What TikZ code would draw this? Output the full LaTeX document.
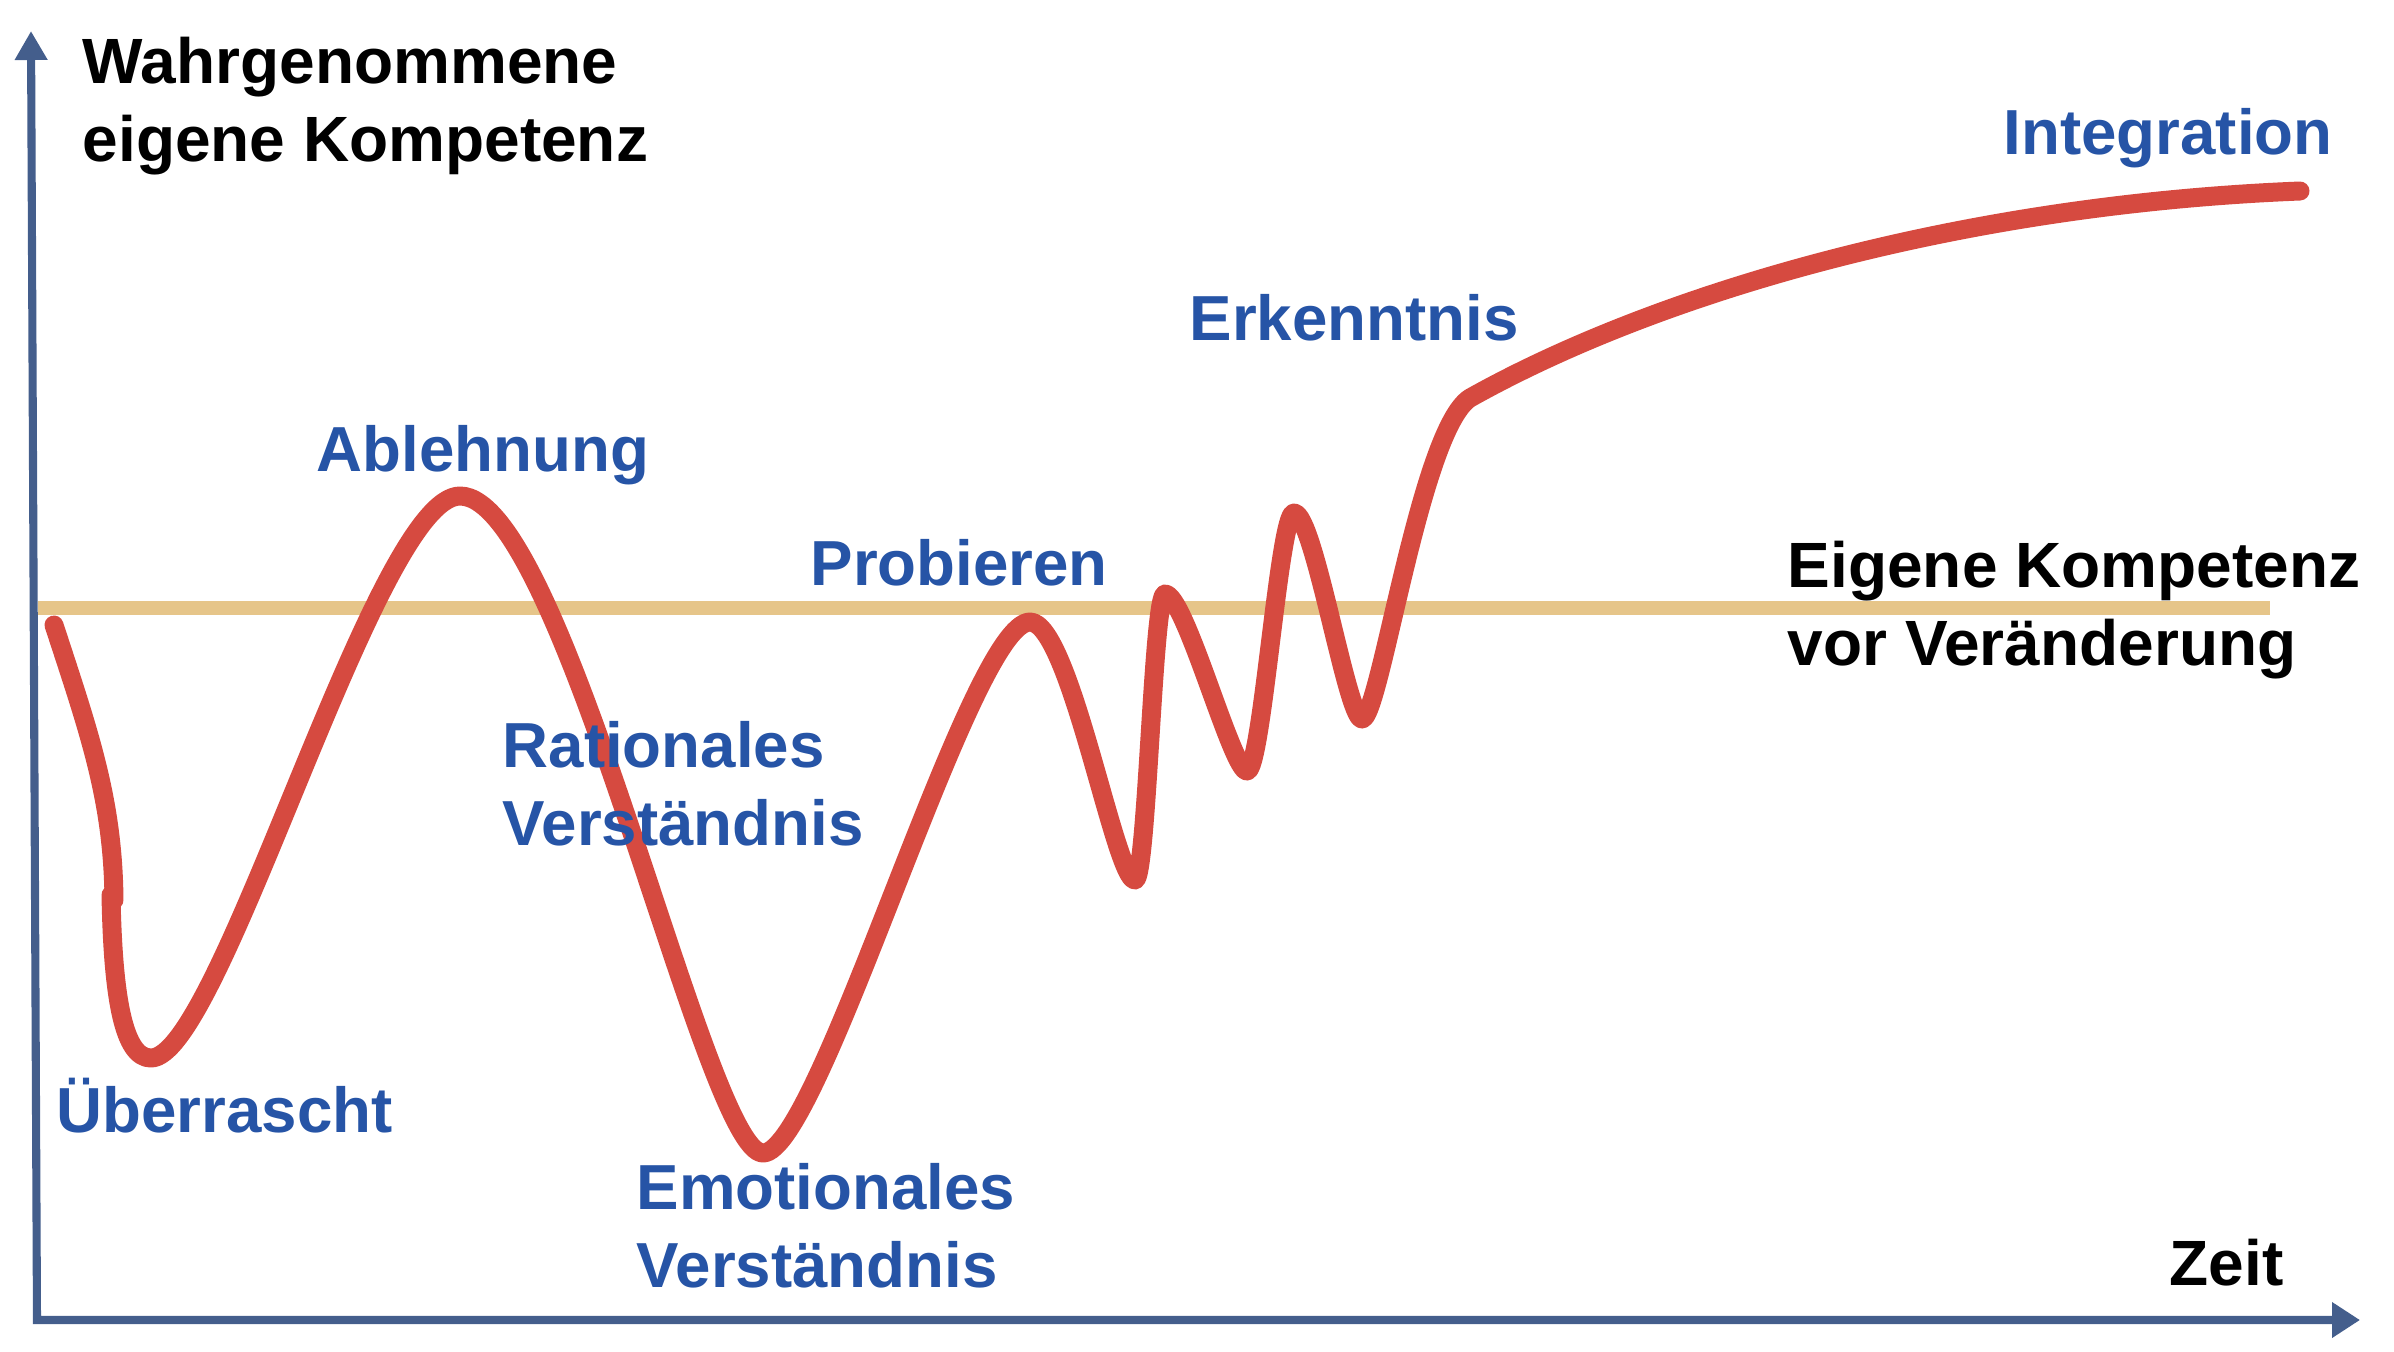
\documentclass[tikz,border=0pt]{standalone}
\usepackage{fontspec}
\setmainfont{Liberation Sans}
\usetikzlibrary{arrows.meta}

\definecolor{axisblue}{RGB}{68,94,140}
\definecolor{levelgold}{RGB}{230,197,137}
\definecolor{curvered}{RGB}{214,74,64}
\definecolor{phaseblue}{RGB}{38,84,166}

\tikzset{
  axis/.style={axisblue, line width=2.3pt},
  level/.style={levelgold, line width=4pt},
  curve/.style={curvered, line width=5.4pt, line cap=round, line join=round},
  phase/.style={anchor=base west, inner sep=0pt, align=left, text=phaseblue,
    font=\bfseries\fontsize{18.1}{22}\selectfont},
  caption/.style={phase, text=black, font=\bfseries\fontsize{18.2}{22}\selectfont}
}

\begin{document}
\begin{tikzpicture}[x=0.01cm, y=-0.01cm]
            % Fixed frame, same proportions as the slide
            \useasboundingbox (0,0) rectangle (2394,1351);

            \coordinate (origin) at (37,1320);
            \coordinate (ytop) at (31,31);
            \coordinate (xend) at (2360,1320);
            \coordinate (lvlL) at (38,608);
            \coordinate (lvlR) at (2270,608);

            % Axes and reference level
            \draw[axis, {Triangle[length=0.29cm, width=0.31cm]}-{Triangle[length=0.28cm, width=0.34cm]}] (ytop) -- (origin) -- (xend);
            \draw[level] (lvlL) -- (lvlR);

            % Change curve (two strokes, joined near the first dip)
            \draw[curve] (54,625) .. controls (90,735) and (113,800) .. (114,900);
            \draw[curve] (111,895) .. controls (113,1000) and (124,1058) .. (151,1058)
                .. controls (221,1058) and (375,496) .. (460,496)
                .. controls (565,496) and (705,1153) .. (763,1153)
                .. controls (820,1153) and (970,622) .. (1030,622)
                .. controls (1070,622) and (1115,880) .. (1135,880)
                .. controls (1147,880) and (1153,594) .. (1165,594)
                .. controls (1185,594) and (1232,771) .. (1247,771)
                .. controls (1262,771) and (1279,513) .. (1294,513)
                .. controls (1314,513) and (1347,719) .. (1362,719)
                .. controls (1380,719) and (1420,430) .. (1470,398)
                .. controls (1650,297) and (1950,205) .. (2300,191);

            % Axis captions
            \node[caption] (ylabel) at (82,161) {Wahrgenommene\\eigene Kompetenz};
            \node[caption] (xlabel) at (2169,1285) {Zeit};
            \node[caption] (levellabel) at (1787,665) {Eigene Kompetenz\\vor Veränderung};

            % Phases
            \node[phase] (surprise) at (56,1132) {Überrascht};
            \node[phase] (denial) at (316,471) {Ablehnung};
            \node[phase] (rational) at (502,845) {Rationales\\Verständnis};
            \node[phase] (emotional) at (636,1287) {Emotionales\\Verständnis};
            \node[phase] (trying) at (810,585) {Probieren};
            \node[phase] (insight) at (1189,340) {Erkenntnis};
            \node[phase] (integration) at (2003,154) {Integration};
        \end{tikzpicture}
\end{document}
